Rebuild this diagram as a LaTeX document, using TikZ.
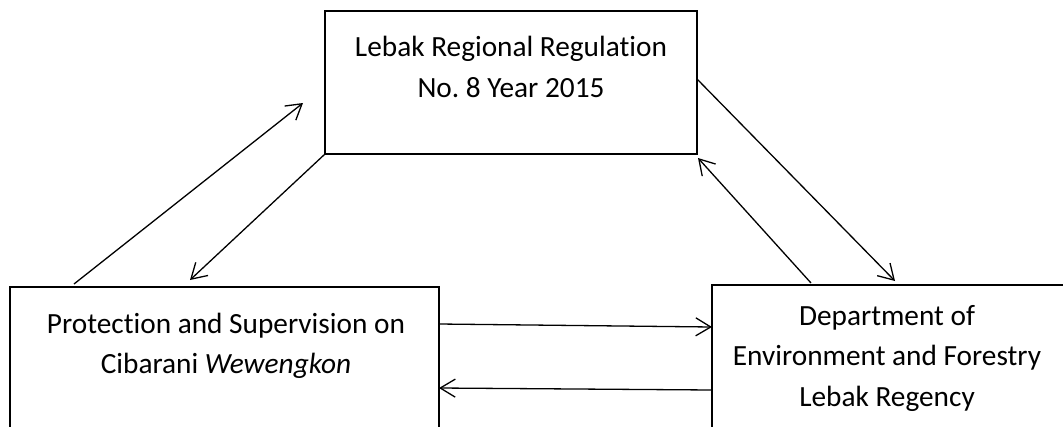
\documentclass[tikz,border=0pt]{standalone}
\usepackage{fontspec}
\setmainfont{Carlito}[Ligatures={NoCommon}]
\usetikzlibrary{arrows.meta}
\frenchspacing
\begin{document}
\begin{tikzpicture}[x=1pt,y=-1pt,
  box/.style={draw, line width=2.8pt, rectangle, inner sep=0pt, outer sep=0pt, anchor=north west},
  txt/.style={font=\fontsize{29.3}{40.4}\selectfont, align=center, inner sep=0pt, anchor=north},
  conn/.style={line width=1.3pt, -{Straight Barb[length=15pt,width=18pt]}}
]
\useasboundingbox (0,0) rectangle (1063,426);
\clip (0,0) rectangle (1063,426);
\node[box, minimum width=372pt, minimum height=143pt] (reg) at (325,11) {};
\node[box, minimum width=429pt, minimum height=170pt] (prot) at (10,287) {};
\node[box, minimum width=354pt, minimum height=170pt] (dept) at (712,285) {};
\node[txt] (regtxt) at (511,26.5) {\rule{0pt}{30pt}Lebak Regional Regulation\\No.\ 8 Year 2015};
\node[txt] (prottxt) at (226,303) {\rule{0pt}{30pt}Protection and Supervision on\\Cibarani \textit{Wewengkon}};
\node[txt] (depttxt) at (887,295) {\rule{0pt}{30pt}Department of\\Environment and Forestry\\Lebak Regency};
\draw[conn] ([xshift=64pt,yshift=3pt]prot.north west) -- ([xshift=-22pt,yshift=-92pt]reg.north west);
\draw[conn] (reg.south west) -- ([xshift=180pt,yshift=7pt]prot.north west);
\draw[conn] ([yshift=-68pt]reg.north east) -- ([xshift=183pt,yshift=4pt]dept.north west);
\draw[conn] ([xshift=99pt,yshift=2pt]dept.north west) -- ([xshift=1pt,yshift=-4pt]reg.south east);
\draw[conn] ([yshift=-37pt]prot.north east) -- ([yshift=-42pt]dept.north west);
\draw[conn] ([yshift=-105pt]dept.north west) -- ([yshift=-101pt]prot.north east);
\end{tikzpicture}
\end{document}
